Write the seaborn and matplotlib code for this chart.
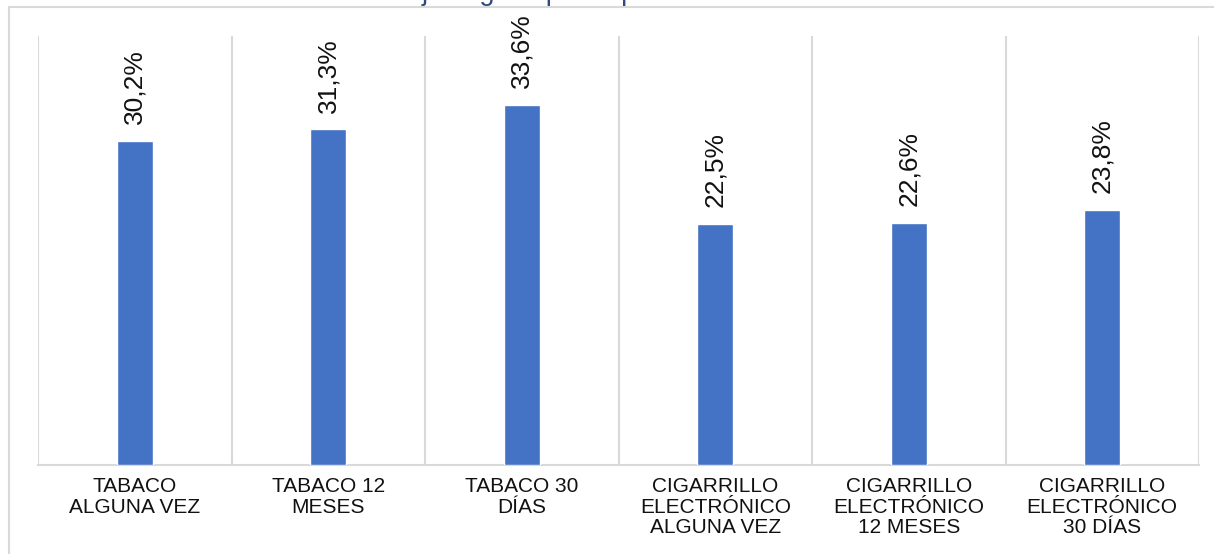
import matplotlib
matplotlib.use("Agg")
import matplotlib.pyplot as plt
import seaborn as sns
from matplotlib.patches import Rectangle

# Data
categories = [
    "TABACO\nALGUNA VEZ",
    "TABACO 12\nMESES",
    "TABACO 30\nDÍAS",
    "CIGARRILLO\nELECTRÓNICO\nALGUNA VEZ",
    "CIGARRILLO\nELECTRÓNICO\n12 MESES",
    "CIGARRILLO\nELECTRÓNICO\n30 DÍAS",
]
values = [30.2, 31.3, 33.6, 22.5, 22.6, 23.8]
title = "trabajo según tipo de producto de tabaco"

sns.set_theme(style="white")
plt.rcParams["font.family"] = ["Liberation Sans", "DejaVu Sans"]

W, H = 1214, 554
fig = plt.figure(figsize=(W / 100, H / 100), dpi=100)

# Outer chart frame (extends past the right and bottom edges)
fig.patches.append(Rectangle((9 / W, -0.1), 1.2, 1 - 7 / H + 0.1,
                             transform=fig.transFigure, fill=False,
                             edgecolor="#D9D9D9", linewidth=1.5, zorder=0))

# Title, sitting at the very top edge of the canvas
fig.text(0.5, 1 - 0.3 / H, title, ha="center", va="baseline",
         fontsize=19.5, color="#2F4A80")

ax = fig.add_axes([38 / W, 1 - 465 / H, (1199 - 38) / W, (465 - 36) / H])

sns.barplot(x=list(range(len(values))), y=values, color="#4472C4",
            width=0.186, saturation=1, ax=ax, zorder=3)

ax.set_xlim(-0.5, len(values) - 0.5)
ax.set_ylim(0, 40)

# Category separators as vertical grid lines
ax.set_xticks([i - 0.5 for i in range(len(values) + 1)], minor=True)
ax.grid(False)
ax.xaxis.grid(True, which="minor", color="#D9D9D9", linewidth=1.5)
ax.set_axisbelow(True)

ax.set_xticks(range(len(values)))
ax.set_xticklabels(categories, fontsize=15, linespacing=1.08,
                   color="#111111")
ax.tick_params(axis="x", which="both", length=0, pad=9)
ax.set_yticks([])
ax.set_xlabel("")
ax.set_ylabel("")

for s in ["top", "left", "right"]:
    ax.spines[s].set_visible(False)
ax.spines["bottom"].set_color("#D9D9D9")
ax.spines["bottom"].set_linewidth(1.5)

for i, v in enumerate(values):
    ax.annotate(f"{v:.1f}%".replace(".", ","), xy=(i, v),
                xytext=(0, 12), textcoords="offset points",
                rotation=90, ha="center", va="bottom",
                fontsize=19, color="#111111")

fig.savefig("out.png", dpi=100)
